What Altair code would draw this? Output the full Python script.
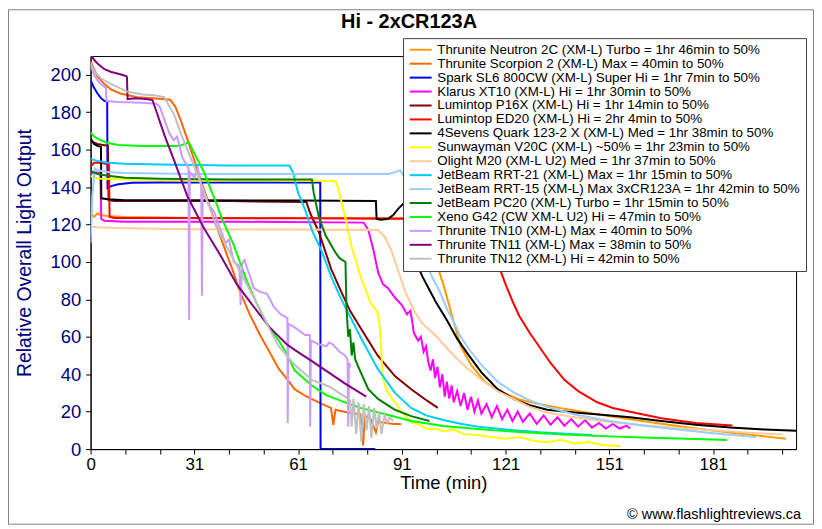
import altair as alt
import pandas as pd

names = [
    "Thrunite Neutron 2C (XM-L) Turbo = 1hr 46min to 50%",
    "Thrunite Scorpion 2 (XM-L) Max = 40min to 50%",
    "Spark SL6 800CW (XM-L) Super Hi = 1hr 7min to 50%",
    "Klarus XT10 (XM-L) Hi = 1hr 30min to 50%",
    "Lumintop P16X (XM-L) Hi = 1hr 14min to 50%",
    "Lumintop ED20 (XM-L) Hi = 2hr 4min to 50%",
    "4Sevens Quark 123-2 X (XM-L) Med = 1hr 38min to 50%",
    "Sunwayman V20C (XM-L) ~50% = 1hr 23min to 50%",
    "Olight M20 (XM-L U2) Med = 1hr 37min to 50%",
    "JetBeam RRT-21 (XM-L) Max = 1hr 15min to 50%",
    "JetBeam RRT-15 (XM-L) Max 3xCR123A = 1hr 42min to 50%",
    "JetBeam PC20 (XM-L) Turbo = 1hr 15min to 50%",
    "Xeno G42 (CW XM-L U2) Hi = 47min to 50%",
    "Thrunite TN10 (XM-L) Max = 40min to 50%",
    "Thrunite TN11 (XM-L) Max = 38min to 50%",
    "Thrunite TN12 (XM-L) Hi = 42min to 50%",
]
colors = ["#FF9900", "#FF6600", "#0000FF", "#FF00FF", "#800000", "#FF0000",
          "#000000", "#FFFF00", "#FFCC99", "#00CCFF", "#99CCFF", "#008000",
          "#00FF00", "#CC99FF", "#800080", "#C0C0C0"]

t1 = [0, 1, 2, 3, 5, 10, 30, 60, 90, 93, 96, 99, 102, 105, 107, 110, 114, 118, 124, 130, 137, 145, 156, 165, 175, 185, 195, 201]
v1 = [126, 124, 126, 125, 124.5, 124, 123.5, 123.5, 123.5, 122, 115, 105, 88, 68, 55, 45, 36, 31, 26.5, 24, 21.5, 19, 16, 13.5, 11, 8.8, 6.8, 5.5]

t2 = [0, 1, 2, 4, 6, 8.6, 13.5, 18, 23, 24.5, 25.9, 27.9, 29.9, 31.7, 33.7, 36, 38.6, 41, 43, 46, 49, 52, 54.4, 57, 59, 62, 64, 67, 69.5, 70.2, 70.8, 72, 74, 76, 78, 78.8, 79.3, 80, 81, 82.5, 83.2, 84, 85.5, 87, 89.8]
v2 = [207, 203, 199, 195, 192, 190, 188, 187.5, 186.7, 183, 176.5, 166, 155, 144.5, 134, 121, 108, 96, 85, 72, 61, 51, 43, 37, 32, 28.5, 26.7, 24, 22, 13, 21, 20.5, 19.7, 19, 18.7, 2, 18, 17, 16, 9, 15, 14.4, 14, 13.5, 13.3]

t3 = [0, 1, 2, 3, 4, 4.8, 4.9, 6, 8, 12, 20, 40, 60, 66.4, 66.5, 82.3]
v3 = [197, 193, 190, 187.5, 186, 185.5, 139.5, 140.5, 141.5, 142.3, 142.5, 142.5, 142.5, 142.5, 0, 0]

t4 = [0, 1, 2.8, 3.1, 4, 10, 40, 79, 80.3, 81.7, 83.2, 84.6, 86, 88, 90, 91.5, 92.5, 93.5, 94.7, 95.5, 96.3, 97, 97.6, 98.3, 99, 99.6, 100.3, 101, 101.7, 102.4, 103, 103.7, 104.4, 105, 106, 107, 108, 109, 110, 111, 112, 113, 114.5, 116, 117.5, 119, 120.5, 122, 123.5, 125, 127, 129, 131, 133, 135, 137, 139, 141, 143, 145, 147, 149, 151, 153, 155, 156]
v4 = [147, 148, 147.5, 123, 122, 121.5, 121.5, 121, 117, 107, 94, 88, 86, 81, 77, 72, 74, 62, 58, 60, 52, 55, 47, 42, 48, 38, 44, 33, 40, 28, 36, 27, 34, 25, 31, 23, 30, 21, 28, 20, 26, 19, 24, 17, 23, 16, 21, 15, 20, 14.5, 19, 13.5, 18, 13, 17, 12.5, 16, 12, 15.5, 11.5, 14, 11, 13.5, 11, 12.5, 11]

t5 = [0, 2, 5, 5.2, 7, 20, 40, 62.4, 63.5, 66, 69.6, 72.5, 75, 78.3, 83, 88, 92.7, 97.5, 100.4]
v5 = [164.5, 163, 162, 133, 132.5, 132.5, 132.5, 132, 126, 116, 96, 84, 74, 64, 50, 39, 32, 25.6, 22]

t6 = [0, 1, 3, 5.3, 5.5, 7, 20, 60, 100, 112, 114, 116, 118, 120, 122, 124, 127, 130, 133, 137, 141, 146.5, 151, 156, 165, 175, 185.6]
v6 = [151, 153, 153, 152, 124, 123.5, 123.5, 123.3, 123, 122.5, 118, 110, 98, 88, 79, 71, 62, 54, 46, 37, 31, 25, 22, 20, 16.5, 14, 12.6]

t7 = [0, 1, 2, 3, 3.1, 5, 10, 30, 60, 82.5, 82.7, 84, 86, 87.5, 89, 90.4, 91.5, 92.5, 93.8, 96, 98, 100, 103, 106, 109, 113, 117.7, 122.6, 127, 132, 140, 147, 156, 165, 175, 185, 195, 204]
v7 = [166, 163, 162, 161.5, 134, 133.5, 133, 133, 132.8, 132.5, 123, 122.5, 123, 125, 128.5, 131, 128, 118, 101, 92, 85, 78, 69, 59, 51, 41, 32, 26.5, 23.5, 21, 19.5, 18.5, 17, 15, 13, 11.5, 10.5, 9.8]

t8 = [0, 1, 3, 10, 30, 50, 70.8, 71.5, 73.6, 75.5, 78.3, 81, 83, 83.6, 84, 84.3, 84.6, 86, 88, 90, 92.7, 95, 97.5, 100, 102, 105, 108, 112, 116, 120, 124, 128, 132, 136, 140, 144, 148, 153]
v8 = [146, 145, 144.5, 144, 143.5, 143.5, 143.3, 140, 124, 108, 91, 78, 73, 66, 55, 44, 37, 30, 25, 19.7, 14.4, 13, 10.7, 11, 9.6, 10.5, 8, 7.5, 6.5, 5.5, 6.5, 4.5, 3.7, 5, 3, 3.8, 2.2, 1.6]

t9 = [0, 2, 10, 30, 60, 83, 85, 87, 89, 91, 93.8, 96, 99.6, 102, 105, 109, 113, 117.7, 122.6, 127, 132, 140, 150, 160, 170, 180, 190, 200]
v9 = [119, 118.5, 118, 117.5, 117.3, 117, 113.6, 106, 95, 84, 73, 67, 61, 56, 50, 43, 37, 31, 26.5, 22.5, 19.5, 17, 14.5, 12.8, 11.3, 10, 8.8, 7.8]

t10 = [0, 2, 5, 10, 20, 40, 57.5, 58.5, 60, 62, 64, 67, 69.6, 72.5, 75, 78.3, 83, 88, 92.7, 97, 102, 107, 112, 120, 130, 140, 145]
v10 = [155, 154, 153, 152.5, 152, 151.5, 151.5, 148, 137, 128, 117, 105, 92, 80, 71, 59, 43, 30, 22, 18, 15.5, 13.5, 12, 10.5, 9, 8, 7.5]

t11 = [0, 0.5, 1.2, 2, 5, 10, 30, 60, 86, 88, 89.5, 90.5, 93, 96.7, 99, 101, 103, 105, 107, 110, 113, 117.7, 122.6, 127, 132, 140, 150, 160, 170, 180, 192.5]
v11 = [110, 135, 150, 149, 148, 147.5, 147, 147, 147, 148, 149, 146, 125, 100, 91, 84, 75, 68, 60, 52, 45, 36, 30, 26, 22.5, 18.5, 15, 12.5, 10.5, 8.5, 6.4]

t12 = [0, 2, 5, 10, 20, 40, 60, 64, 64.5, 66, 68, 70.8, 72, 73.7, 74, 74.5, 75, 75.5, 76, 76.5, 77.4, 80.3, 83.2, 88, 92.7, 98]
v12 = [148.5, 147, 146, 145, 144.5, 144, 144, 144, 137, 124, 114, 105, 102, 100, 75, 60, 64, 50, 57, 48, 44, 32, 26.7, 21, 17.6, 15]

t13 = [0, 1, 3, 5, 8, 15, 25.6, 28, 28.5, 30, 32.8, 35, 36.5, 38, 41.4, 45.2, 48, 51, 54.4, 56.7, 59, 64, 68, 73.6, 78, 83, 92.7, 102, 112, 120, 130, 140, 150, 160, 170, 184]
v13 = [169, 167, 165, 163.5, 162.5, 162, 162, 163.5, 163.5, 158, 148, 137.6, 130.7, 123, 109, 89.6, 78, 67, 58, 51, 42, 34, 29, 25, 22, 19.7, 15, 12.3, 10.7, 9.6, 8.5, 7.5, 6.8, 6.2, 5.6, 4.8]

t14 = [0, 1, 2, 3, 4.4, 4.6, 8, 15, 19, 20, 22.7, 24, 25, 26.5, 28.3, 28.5, 28.7, 30, 31, 32, 32.2, 32.4, 33, 34, 35.7, 37.4, 39, 40, 41.4, 43, 43.4, 43.8, 44.5, 45.2, 46, 47.2, 49, 51, 53, 55, 56.9, 57, 57.2, 59, 62, 63.4, 63.5, 63.7, 66, 68.2, 69, 70, 72, 73.6, 74.3, 74.5, 74.7, 75.2]
v14 = [205, 200, 197, 195, 193, 186, 185.5, 185, 184.5, 183, 169, 165, 167, 156, 150, 69, 148, 145, 150, 140, 82, 138, 135, 131, 127, 118, 110, 112, 100, 98, 77, 99, 101, 97, 93, 86, 84, 83, 76, 72, 70, 14, 67, 65, 61, 61, 12, 58, 56, 55, 57, 56, 52, 50, 48, 12, 46, 44]

t15 = [0, 1, 2, 4, 6, 8, 10, 10.5, 10.7, 13, 16, 17.9, 21.3, 24.2, 28, 32.8, 37.4, 42.3, 47.2, 51.8, 56.7, 59, 64, 68.8, 73.6, 79.7]
v15 = [211, 208, 206, 203, 201.5, 200.5, 199.5, 199, 187, 187.5, 187, 186.5, 168, 154, 135, 118, 104, 88, 76, 65, 56, 53, 47, 41, 35, 28]

t16 = [0, 1, 3, 6, 10.6, 15, 18.4, 21.3, 24.2, 25.9, 28, 30.8, 32.8, 35, 37.4, 42.3, 47.2, 51.8, 54.4, 59, 64, 68.8, 73.6, 75, 75.5, 76, 76.8, 77.5, 78.3, 79, 79.8, 80.5, 81.2, 82, 82.7, 83.4, 84.1, 85, 85.8, 86.5, 87.5]
v16 = [206, 202, 198, 195, 191, 189.5, 189, 188, 178.6, 169.6, 160, 147, 137.6, 126, 115, 98, 81, 64, 55, 45, 37, 33.6, 28, 26, 12, 27, 8, 25, 4, 24, 10, 23, 6, 22, 11, 20, 8, 18, 14, 17, 15]

series_t = [t1, t2, t3, t4, t5, t6, t7, t8, t9, t10, t11, t12, t13, t14, t15, t16]
series_v = [v1, v2, v3, v4, v5, v6, v7, v8, v9, v10, v11, v12, v13, v14, v15, v16]

x_ticks = list(range(0, 201, 10))
y_ticks = list(range(0, 201, 20))

rows = []
for name, ts, vs in zip(names, series_t, series_v):
    assert len(ts) == len(vs), name
    for i, (t, v) in enumerate(zip(ts, vs)):
        rows.append({"series": name, "t": t, "v": v, "i": i})
df = pd.DataFrame(rows)

W, H = 709, 395
PL, PT, PR, PB = 83, 47, 18, 76
FONT = "Liberation Sans"

lines = alt.Chart(df).mark_line(strokeWidth=2, clip=True).encode(
    x=alt.X("t:Q",
            scale=alt.Scale(domain=[0, 204], nice=False, zero=False),
            axis=alt.Axis(values=x_ticks,
                          labelExpr="datum.value % 30 == 0 ? (datum.value == 0 ? '0' : toString(datum.value + 1)) : ''",
                          title="Time (min)", grid=False, labelOverlap=False, labelFlush=False,
                          tickSize=5, tickColor="black", domainColor="black",
                          labelFontSize=17, labelColor="black", labelFont=FONT, labelPadding=3,
                          titleFontSize=18.5, titleFont=FONT, titleFontWeight="normal",
                          titleColor="black", titlePadding=1)),
    y=alt.Y("v:Q",
            scale=alt.Scale(domain=[0, 210], nice=False),
            axis=alt.Axis(values=y_ticks, title="Relative Overall Light Output", grid=False,
                          tickSize=5, tickColor="black", domainColor="black",
                          labelFontSize=18.5, labelColor="#000080", labelFont=FONT, labelPadding=5,
                          titleFontSize=19.5, titleFont=FONT, titleFontWeight="normal",
                          titleColor="#000080", titlePadding=16)),
    color=alt.Color("series:N",
                    scale=alt.Scale(domain=names, range=colors),
                    sort=names,
                    legend=alt.Legend(title=None, orient="none", legendX=314, legendY=-18,
                                      fillColor="white", strokeColor="#404040", padding=5,
                                      labelFontSize=13.4, labelFont=FONT, labelColor="black",
                                      labelLimit=500, symbolType="M-2.2,0H2.2", symbolSize=100,
                                      symbolStrokeWidth=2, labelOffset=10, symbolOffset=6,
                                      rowPadding=-1.8)),
    order=alt.Order("i:Q"),
)

one = pd.DataFrame({"k": [0]})
frame = alt.Chart(one).mark_rect(fill="transparent", stroke="#808080", strokeWidth=1).encode(
    x=alt.value(-PL + 0.5), x2=alt.value(W + PR - 0.5),
    y=alt.value(-PT + 0.5), y2=alt.value(H + PB - 0.5))

title = alt.Chart(one).mark_text(text="Hi - 2xCR123A", font=FONT, fontSize=20, fontWeight="bold",
                                 align="center", baseline="middle", color="black").encode(
    x=alt.value(320), y=alt.value(-34))

mark = alt.Chart(one).mark_text(text="\u00a9 www.flashlightreviews.ca", font=FONT, fontSize=14.5,
                                align="right", baseline="middle", color="black").encode(
    x=alt.value(714), y=alt.value(461))

chart = alt.layer(frame, lines, title, mark).properties(
    width=W, height=H,
    autosize=alt.AutoSizeParams(type="none"),
    padding={"left": PL, "top": PT, "right": PR, "bottom": PB},
    background="white",
).configure_view(stroke="black", strokeWidth=1)

chart.save("out.html", embed_options={"renderer": "svg", "actions": False})
